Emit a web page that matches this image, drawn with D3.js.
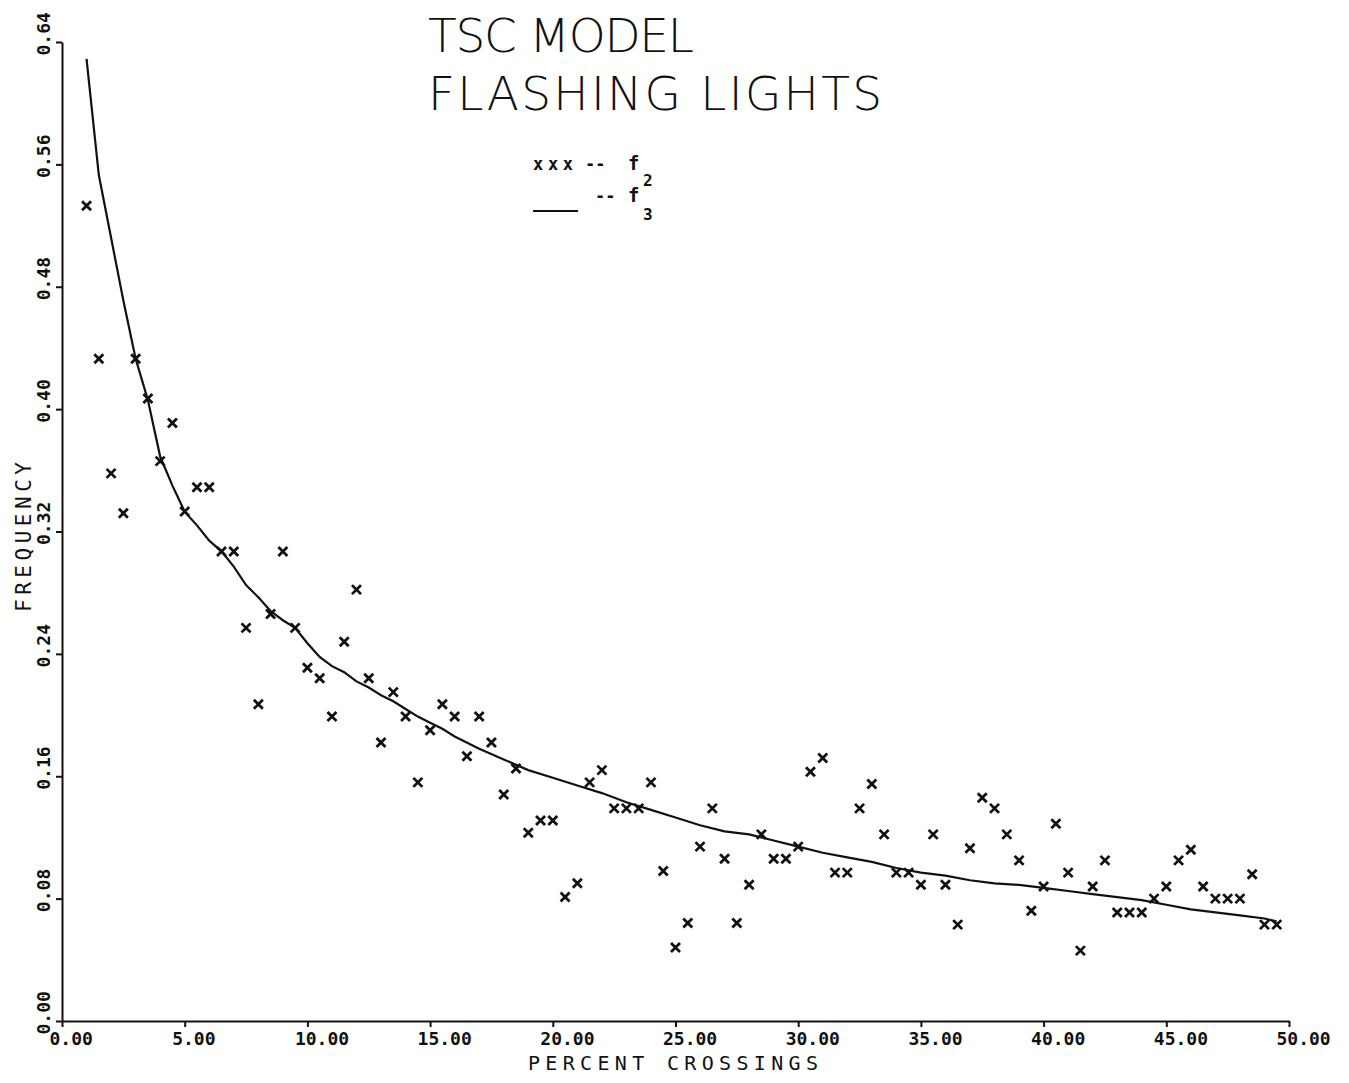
<!DOCTYPE html>
<html>
<head>
<meta charset="utf-8">
<script src="https://cdn.jsdelivr.net/npm/d3@7"></script>
<style>
 body { margin: 0; background: #fff; }
 svg { display: block; }
 text { font-family: "DejaVu Sans Mono", monospace; fill: #111; }
</style>
</head>
<body>
<svg id="chart"></svg>
<script>
// percent crossings for each observation
const pctX = [1, 1.5, 2, 2.5, 3, 3.5, 4, 4.5, 5, 5.5, 6, 6.5, 7, 7.5, 8, 8.5, 9, 9.5, 10, 10.5,
 11, 11.5, 12, 12.5, 13, 13.5, 14, 14.5, 15, 15.5, 16, 16.5, 17, 17.5, 18, 18.5, 19, 19.5, 20, 20.5,
 21, 21.5, 22, 22.5, 23, 23.5, 24, 24.5, 25, 25.5, 26, 26.5, 27, 27.5, 28, 28.5, 29, 29.5, 30, 30.5,
 31, 31.5, 32, 32.5, 33, 33.5, 34, 34.5, 35, 35.5, 36, 36.5, 37, 37.5, 38, 38.5, 39, 39.5, 40, 40.5,
 41, 41.5, 42, 42.5, 43, 43.5, 44, 44.5, 45, 45.5, 46, 46.5, 47, 47.5, 48, 48.5, 49, 49.5];

// f2 (observed frequencies, the x marks)
const f2 = [0.533, 0.433, 0.358, 0.332, 0.433, 0.407, 0.366, 0.391, 0.333, 0.349, 0.349, 0.307, 0.307, 0.257, 0.207, 0.266, 0.307, 0.257, 0.231, 0.224,
 0.199, 0.248, 0.282, 0.224, 0.182, 0.215, 0.199, 0.156, 0.190, 0.207, 0.199, 0.173, 0.199, 0.182, 0.148, 0.165, 0.123, 0.131, 0.131, 0.081,
 0.090, 0.156, 0.164, 0.139, 0.139, 0.139, 0.156, 0.098, 0.048, 0.064, 0.114, 0.139, 0.106, 0.064, 0.089, 0.122, 0.106, 0.106, 0.114, 0.163,
 0.172, 0.097, 0.097, 0.139, 0.155, 0.122, 0.097, 0.097, 0.089, 0.122, 0.089, 0.063, 0.113, 0.146, 0.139, 0.122, 0.105, 0.072, 0.088, 0.129,
 0.097, 0.046, 0.088, 0.105, 0.071, 0.071, 0.071, 0.080, 0.088, 0.105, 0.112, 0.088, 0.080, 0.080, 0.080, 0.096, 0.063, 0.063];

// f3 model curve
const f3X = [1, 1.5, 2, 2.5, 3, 3.5, 4, 4.5, 5, 5.5, 6, 6.5, 7, 7.5, 8, 8.5, 9, 9.5, 10, 10.5,
 11, 11.5, 12, 12.5, 13, 13.5, 14, 14.5, 15, 15.5, 16, 17, 18, 19, 20, 21, 22, 23, 24, 25,
 26, 27, 28, 29, 30, 31, 32, 33, 34, 35, 36, 37, 38, 39, 40, 41, 42, 43, 44, 45, 46, 47, 48, 49, 49.5];
const f3 = [0.629, 0.553, 0.512, 0.471, 0.433, 0.406, 0.369, 0.350, 0.333, 0.324, 0.314, 0.307, 0.297, 0.285, 0.277, 0.268, 0.262, 0.257, 0.247, 0.238,
 0.232, 0.228, 0.222, 0.218, 0.213, 0.209, 0.204, 0.199, 0.195, 0.191, 0.186, 0.178, 0.171, 0.164, 0.159, 0.154, 0.149, 0.143, 0.138, 0.133,
 0.128, 0.124, 0.122, 0.118, 0.114, 0.110, 0.107, 0.104, 0.100, 0.097, 0.095, 0.092, 0.090, 0.089, 0.087, 0.085, 0.083, 0.081, 0.079, 0.076,
 0.073, 0.071, 0.069, 0.067, 0.065];

const xTicks = [0, 5, 10, 15, 20, 25, 30, 35, 40, 45, 50];
const yTicks = [0, 0.08, 0.16, 0.24, 0.32, 0.40, 0.48, 0.56, 0.64];

const width = 1349, height = 1083;
const svg = d3.select("#chart").attr("width", width).attr("height", height);

const x = d3.scaleLinear().domain([0, 50]).range([62, 1289]);
const y = d3.scaleLinear().domain([0, 0.64]).range([1021, 42]);
const fmt = d3.format(".2f");

// x axis
const gx = svg.append("g").attr("transform", `translate(0,${y(0)})`)
 .call(d3.axisBottom(x).tickValues(xTicks).tickSize(6).tickSizeOuter(0).tickFormat(fmt));
gx.select(".domain").attr("stroke", "#111").attr("stroke-width", 2);
gx.selectAll(".tick line").attr("stroke", "#111").attr("stroke-width", 2);
gx.selectAll(".tick text")
 .attr("text-anchor", "start").attr("x", -13).attr("y", 0).attr("dy", 24)
 .style("font-size", "18px").style("font-weight", "bold")
 .style("font-family", "'DejaVu Sans Mono', monospace");

// y axis
const gy = svg.append("g").attr("transform", `translate(${x(0)},0)`)
 .call(d3.axisLeft(y).tickValues(yTicks).tickSize(6).tickSizeOuter(0).tickFormat(fmt));
gy.select(".domain").attr("stroke", "#111").attr("stroke-width", 2);
gy.selectAll(".tick line").attr("stroke", "#111").attr("stroke-width", 2);
gy.selectAll(".tick text")
 .attr("text-anchor", "start").attr("x", null).attr("dy", null)
 .attr("transform", "translate(-12,13) rotate(-90)")
 .style("font-size", "18px").style("font-weight", "bold")
 .style("font-family", "'DejaVu Sans Mono', monospace");

// f3 curve
const line = d3.line().x((d, i) => x(f3X[i])).y(d => y(d));
svg.append("path").datum(f3)
 .attr("d", line).attr("fill", "none").attr("stroke", "#111").attr("stroke-width", 2.2);

// f2 marks
const cross = "M-4.5,-4.5L4.5,4.5M-4.5,4.5L4.5,-4.5";
svg.append("g").selectAll("path").data(f2).join("path")
 .attr("transform", (d, i) => `translate(${x(pctX[i])},${y(d)})`)
 .attr("d", cross).attr("stroke", "#111").attr("stroke-width", 2.8).attr("fill", "none");

// titles (thin plotter lettering)
const titleStyle = s => s.style("font-family", "'DejaVu Sans', sans-serif")
 .style("font-weight", "200").style("font-size", "47px");
svg.append("text").attr("x", 428).attr("y", 52).attr("textLength", 266).attr("lengthAdjust", "spacing")
 .call(titleStyle).text("TSC MODEL");
svg.append("text").attr("x", 428).attr("y", 110).attr("textLength", 454).attr("lengthAdjust", "spacing")
 .call(titleStyle).text("FLASHING LIGHTS");

// axis titles
svg.append("text").attr("x", 528).attr("y", 1070).attr("textLength", 290).attr("lengthAdjust", "spacing")
 .style("font-size", "20px").text("PERCENT CROSSINGS");
svg.append("text").attr("transform", "translate(31,612) rotate(-90)")
 .attr("textLength", 150).attr("lengthAdjust", "spacing")
 .style("font-size", "21px").text("FREQUENCY");

// legend
const lg = svg.append("g");
lg.append("text").attr("x", 533).attr("y", 170).style("font-size", "17px").style("font-weight", "bold")
 .attr("textLength", 40).attr("lengthAdjust", "spacing").text("xxx");
lg.append("text").attr("x", 585).attr("y", 170).style("font-size", "17px").style("font-weight", "bold").text("--");
lg.append("text").attr("x", 628).attr("y", 170).style("font-size", "19px").style("font-weight", "bold").text("f");
lg.append("text").attr("x", 643).attr("y", 186).style("font-size", "16px").style("font-weight", "bold").text("2");
lg.append("line").attr("x1", 533).attr("x2", 578).attr("y1", 211).attr("y2", 211)
 .attr("stroke", "#111").attr("stroke-width", 2.2);
lg.append("text").attr("x", 595).attr("y", 202).style("font-size", "17px").style("font-weight", "bold").text("--");
lg.append("text").attr("x", 628).attr("y", 202).style("font-size", "19px").style("font-weight", "bold").text("f");
lg.append("text").attr("x", 643).attr("y", 220).style("font-size", "16px").style("font-weight", "bold").text("3");
</script>
</body>
</html>
